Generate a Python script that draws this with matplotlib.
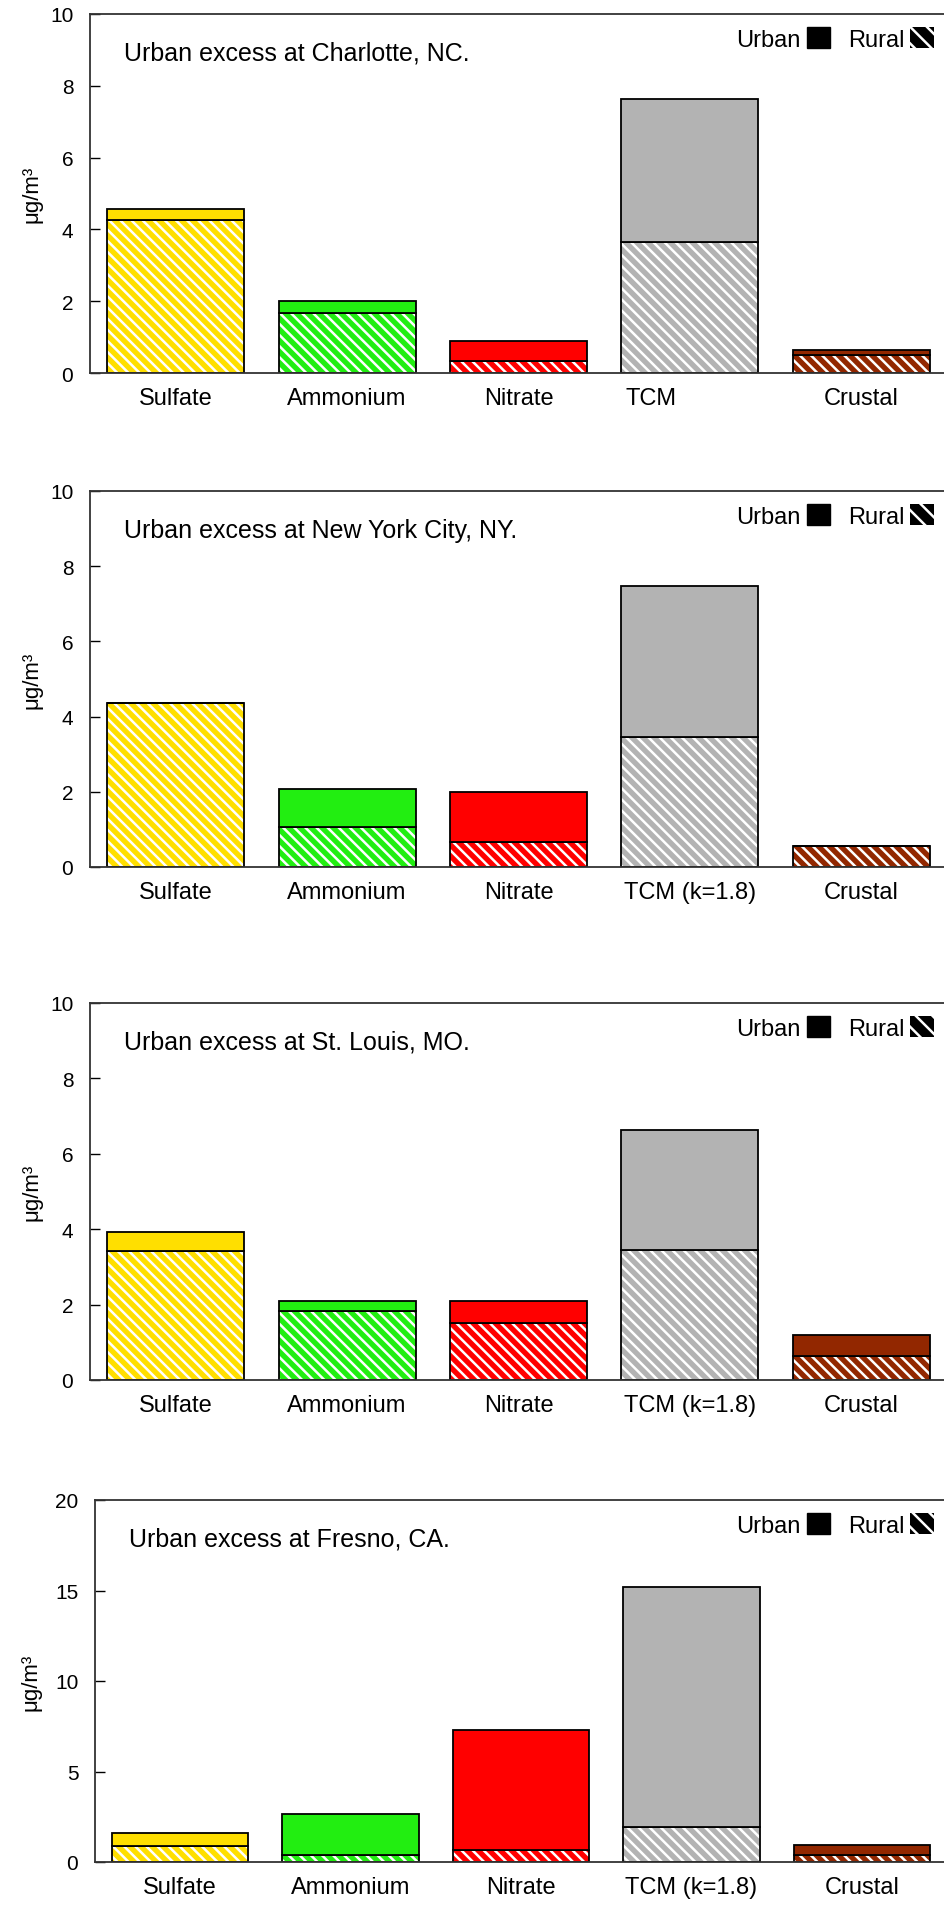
"""Urban excess of PM2.5 species at four city/rural pairs (stacked bars, rural hatched)."""
import numpy as np
import matplotlib
matplotlib.use("Agg")
import matplotlib.pyplot as plt
import matplotlib.transforms as mtransforms
from matplotlib.patches import Patch

plt.rcParams["font.family"] = ["Liberation Sans", "DejaVu Sans"]
plt.rcParams["hatch.linewidth"] = 1.8

SPECIES = ["Sulfate", "Ammonium", "Nitrate", "TCM (k=1.8)", "Crustal"]
SPECIES_CLT = ["Sulfate", "Ammonium", "Nitrate", "TCM", "Crustal"]
COLORS = ["#ffdf00", "#22ee11", "#ff0000", "#b3b3b3", "#922700"]
HATCH = "\\\\\\"

# rural level (hatched) and urban total (bar top), ug/m3
clt_rural = [4.25, 1.67, 0.33, 3.66, 0.50]
clt_total = [4.58, 2.00, 0.89, 7.64, 0.65]
nyc_rural = [4.37, 1.06, 0.66, 3.46, 0.56]
nyc_total = [4.37, 2.07, 2.00, 7.47, 0.56]
stl_rural = [3.42, 1.82, 1.50, 3.45, 0.63]
stl_total = [3.92, 2.09, 2.09, 6.63, 1.19]
fre_rural = [0.88, 0.39, 0.67, 1.96, 0.37]
fre_total = [1.60, 2.65, 7.27, 15.18, 0.95]

PANELS = [
    ("Urban excess at Charlotte, NC.", clt_rural, clt_total, SPECIES_CLT, 10, 2),
    ("Urban excess at New York City, NY.", nyc_rural, nyc_total, SPECIES, 10, 2),
    ("Urban excess at St. Louis, MO.", stl_rural, stl_total, SPECIES, 10, 2),
    ("Urban excess at Fresno, CA.", fre_rural, fre_total, SPECIES, 20, 5),
]
# axes boxes in pixels: left, top, bottom (right edge runs just past the figure)
BOXES = [(90, 15, 374), (90, 492, 868), (90, 1004, 1381), (95, 1501, 1863)]

W, H = 945, 1906
fig = plt.figure(figsize=(W / 100, H / 100), dpi=100)

for (title, rural, total, labels, ymax, ystep), (l, t, b) in zip(PANELS, BOXES):
    ax = fig.add_axes([l / W, 1 - b / H, (947 - l) / W, (b - t) / H])
    x = np.arange(len(labels))
    rural = np.array(rural)
    excess = np.array(total) - rural

    ax.bar(x, rural, width=0.8, color=COLORS, edgecolor="white", hatch=HATCH, lw=0)
    ax.bar(x, rural, width=0.8, fill=False, edgecolor="black", lw=1.3)
    ax.bar(x, excess, bottom=rural, width=0.8, color=COLORS, edgecolor="black", lw=1.3)

    ax.set_xlim(-0.5, 4.5)
    ax.set_ylim(0, ymax)
    ax.set_yticks(np.arange(0, ymax + 1, ystep))
    ax.set_xticks(x)
    ax.set_xticklabels(labels, fontsize=17)
    ax.tick_params(axis="x", length=0, pad=10)
    ax.tick_params(axis="y", direction="in", length=7, width=1, labelsize=15, pad=12)
    for s in ax.spines.values():
        s.set_linewidth(1.3)
        s.set_color("#333333")
    ax.spines["right"].set_visible(False)

    if labels[3] == "TCM":
        lab = ax.get_xticklabels()[3]
        lab.set_horizontalalignment("left")
        lab.set_transform(mtransforms.offset_copy(lab.get_transform(), fig=fig, x=-64, y=0, units="dots"))

    ax.set_ylabel("\u03bcg/m\u00b3", fontsize=16)
    ax.yaxis.set_label_coords((42 - l) / (947 - l), 0.5)

    ax.annotate(title, xy=(0, 1), xycoords="axes fraction", xytext=(34, -46),
                textcoords="offset pixels", fontsize=18, va="baseline", ha="left")

    handles = [Patch(facecolor="black", edgecolor="black"),
               Patch(facecolor="black", edgecolor="white", hatch="\\\\", lw=0)]
    ax.legend(handles, ["Urban", "Rural"], loc="upper right", bbox_to_anchor=(1, 1),
              ncol=2, markerfirst=False, frameon=False, fontsize=17,
              handlelength=1.0, handleheight=1.0, handletextpad=0.25,
              columnspacing=0.75, borderaxespad=0, borderpad=0.55)

fig.savefig("out.png", dpi=100)
